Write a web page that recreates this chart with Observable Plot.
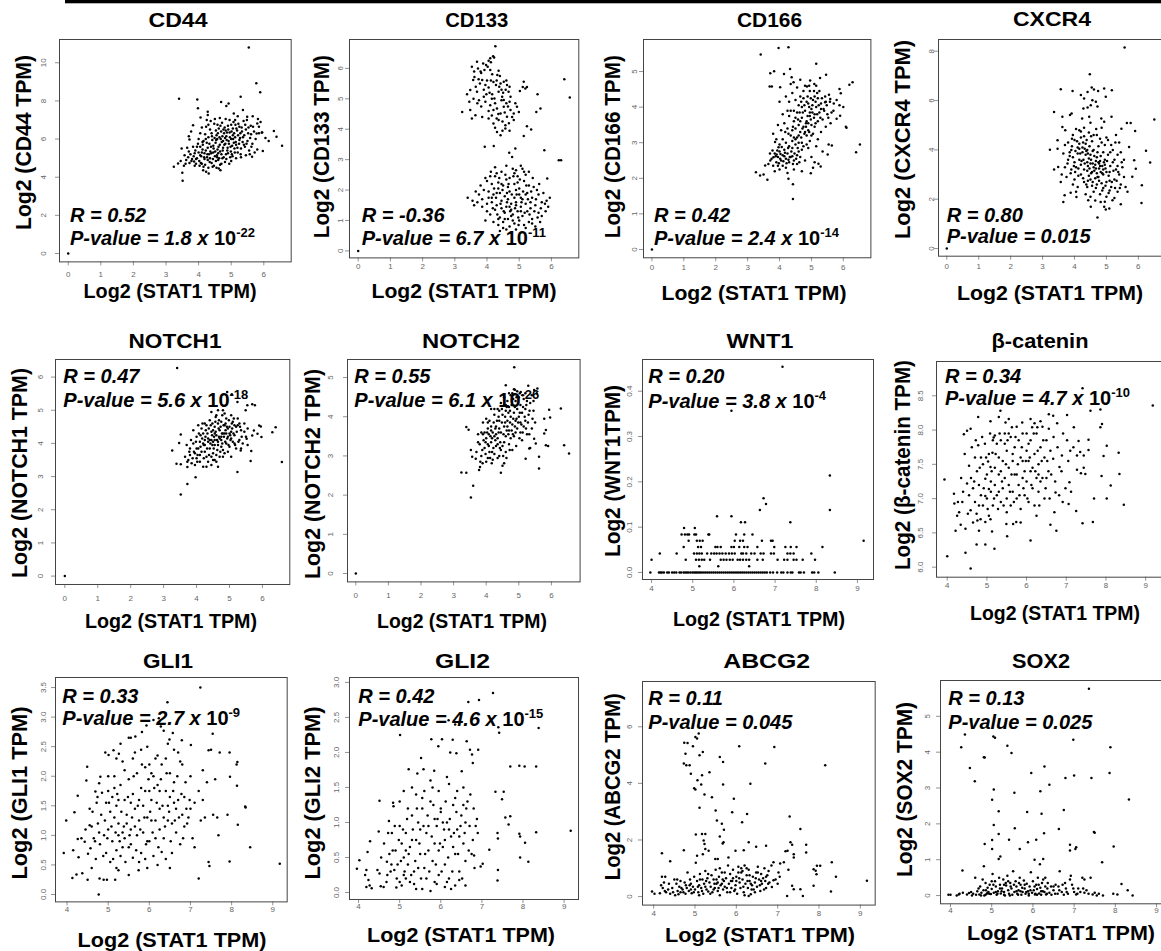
<!DOCTYPE html>
<html><head><meta charset="utf-8">
<script src="https://cdn.jsdelivr.net/npm/d3@7"></script>
<script src="https://cdn.jsdelivr.net/npm/@observablehq/plot@0.6"></script>
<style>
html,body{margin:0;padding:0;background:#fff;overflow:hidden;}
#page{position:relative;width:1161px;height:951px;overflow:hidden;background:#fff;}
#overlay{position:absolute;left:0;top:0;}
</style></head><body><div id="page"></div>
<script>
// ---------- labels / statistics ----------
const genes = ["CD44","CD133","CD166","CXCR4","NOTCH1","NOTCH2","WNT1","β-catenin","GLI1","GLI2","ABCG2","SOX2"];
const yLabels = ["Log2 (CD44 TPM)","Log2 (CD133 TPM)","Log2 (CD166 TPM)","Log2 (CXCR4 TPM)","Log2 (NOTCH1 TPM)","Log2 (NOTCH2 TPM)","Log2 (WNT1TPM)","Log2 (β-catenin TPM)","Log2 (GLI1 TPM)","Log2 (GLI2 TPM)","Log2 (ABCG2 TPM)","Log2 (SOX2 TPM)"];
const xLabel = "Log2 (STAT1 TPM)";
const rValues = ["0.52","-0.36","0.42","0.80","0.47","0.55","0.20","0.34","0.33","0.42","0.11","0.13"];
const pMantissa = ["1.8","6.7","2.4","0.015","5.6","6.1","3.8","4.7","2.7","4.6","0.045","0.025"];
const pExponent = ["-22","-11","-14",null,"-18","-26","-4","-10","-9","-15",null,null];
const xTicksA = [0,1,2,3,4,5,6];
const xTicksB = [4,5,6,7,8,9];
const yTicks = [[0,2,4,6,8,10],[0,1,2,3,4,5,6],[0,1,2,3,4,5],[0,2,4,6,8],[0,1,2,3,4,5,6],[0,1,2,3,4,5],[0,0.1,0.2,0.3,0.4],[6,6.5,7,7.5,8,8.5],[0,0.5,1,1.5,2,2.5,3,3.5],[0,0.5,1,1.5,2,2.5,3],[0,2,4,6],[0,1,2,3,4,5]];

// ---------- data (x = Log2 STAT1 TPM, y = Log2 gene TPM) ----------
const cd44 = [[0,0],[5.54,10.8],[5.77,8.92],[5.89,8.46],[3.40,8.11],[3.96,8.08],[3.98,7.62],[4.69,7.94],[4.92,7.87],[4.85,7.73],[5.29,8.22],[4.28,7.43],[4.28,7.26],[4.06,7.13],
[3.24,4.55],[3.5,4.23],[3.51,3.81],[3.37,4.72],[3.48,5.5],[3.7,6.15],[3.72,5.98],[3.83,6.73],
[6.31,6.42],[6.39,6.12],[6.56,5.65],[5.97,5.38],[5.94,6.35],[5.8,6.82],[5.82,7.05],[5.66,7.2],[5.49,7.17],[5.67,6.64],[5.78,6.29],[5.62,5.6],[5.64,5.07],[5.36,7.52],[5.08,7.34],
[4.31,4.2],[4.23,4.28],[4.67,4.37],[4.62,4.46],[4.14,4.37],
[3.62,4.9],[3.68,5.05],[3.72,4.75],[3.75,5.2],[3.8,4.95],[3.85,5.1],[3.88,4.6],[3.7,5.35],[3.78,4.85],[3.9,5.4],[3.83,5.6],[3.65,5.55],[3.6,4.7],[3.92,4.7],[3.86,4.82],
[3.95,5.0],[4.0,5.3],[4.02,4.85],[4.05,5.6],[4.08,5.1],[4.1,4.7],[4.12,5.45],[4.15,5.9],[4.18,5.25],[4.0,6.0],[4.05,6.3],[4.1,6.6],[4.15,4.55],[4.18,4.95],[3.98,5.75],[4.2,6.25],[4.03,4.6],[4.13,5.7],
[4.22,5.4],[4.25,5.8],[4.28,4.9],[4.3,6.1],[4.32,5.2],[4.35,6.5],[4.38,5.6],[4.4,4.75],[4.42,5.95],[4.45,5.3],[4.48,6.8],[4.25,7.0],[4.3,4.5],[4.35,5.0],[4.4,6.3],[4.45,5.65],[4.47,4.6],[4.23,6.65],[4.37,6.95],[4.5,5.1],[4.28,5.55],
[4.52,5.8],[4.55,6.2],[4.58,5.45],[4.6,4.9],[4.62,6.55],[4.65,5.7],[4.68,6.0],[4.7,5.2],[4.72,6.85],[4.75,5.55],[4.78,6.3],[4.55,4.5],[4.6,5.25],[4.65,7.1],[4.7,4.7],[4.75,5.9],[4.8,6.6],[4.57,6.0],[4.63,5.0],[4.77,5.05],[4.53,6.45],[4.69,6.4],
[4.82,5.75],[4.85,6.15],[4.88,5.4],[4.9,6.7],[4.92,5.9],[4.95,6.35],[4.98,5.6],[5.0,6.0],[5.02,5.2],[5.05,6.55],[5.08,5.8],[4.85,4.95],[4.9,5.25],[4.95,7.0],[5.0,4.85],[5.05,6.2],[5.1,5.5],[4.83,6.45],[4.97,5.05],[5.07,6.9],
[5.12,6.1],[5.15,5.7],[5.18,6.45],[5.2,5.3],[5.22,6.8],[5.25,5.95],[5.28,6.3],[5.3,5.5],[5.32,6.6],[5.35,5.85],[5.38,6.95],[5.15,5.0],[5.2,7.2],[5.3,5.05],[5.4,6.2],[5.25,6.65],[5.13,6.75],
[5.42,5.6],[5.45,6.5],[5.5,5.9],[5.52,6.3],[5.55,5.4],[5.6,6.7],[5.48,7.0],[5.58,6.05],[5.65,5.75],[5.7,6.4],[5.75,6.0],[5.85,6.3],[5.9,6.9],[5.8,5.45],[5.95,6.35],
[4.05,5.15],[4.12,5.85],[4.17,5.05],[4.22,6.0],[4.27,5.2],[4.33,5.75],[4.36,5.35],[4.41,6.15],[4.44,4.95],[4.46,5.5],[4.49,6.05],[4.51,5.35],[4.54,5.95],[4.56,5.15],[4.59,6.3],[4.61,5.6],[4.64,6.1],[4.66,5.35],[4.67,6.7],[4.71,5.85],[4.73,6.15],[4.74,5.4],[4.76,6.5],[4.79,5.7],[4.81,6.05],[4.84,5.2],[4.86,5.95],[4.87,6.35],[4.89,5.55],[4.91,6.5],[4.93,5.75],[4.96,6.1],[4.99,5.35],[5.01,6.4],[5.03,5.65],[5.06,6.0],[5.09,6.3],[5.11,5.3],[5.14,5.85],[5.16,6.55],[5.19,5.55],[5.21,6.2],[5.24,5.75],[5.27,6.05],[5.29,5.2],[5.33,6.4],[5.36,6.1],[5.39,5.7],[5.43,6.75],[5.47,5.75],[5.53,6.6],[5.57,5.2],[5.61,6.25],[3.95,5.6],[3.88,5.25],[3.92,4.95],[4.07,4.75],[4.1,5.3],[4.2,4.65],[4.26,5.05],[4.34,4.8],[4.39,5.25],[4.43,4.55],[4.53,4.85],[4.57,5.05],[4.66,4.65],[4.73,5.0],[4.81,4.8],[4.94,4.7],[5.04,5.1],[4.3,6.75],[4.5,7.05],[4.58,6.75],[4.83,7.05],[5.0,6.75],[5.12,7.0],[3.77,6.4],[3.57,5.15],[3.55,4.6],[3.45,4.85],[5.72,5.3],[5.85,6.65],[6.05,6.05],[6.15,5.9],[5.45,5.15]];

const cd133 = [[0,0],[4.26,6.73],[4.19,6.40],[4.1,6.33],[4.05,6.25],[4.22,6.36],[3.69,6.22],[3.53,6.05],[3.88,6.16],[3.97,6.11],[4.36,5.92],
[3.57,5.62],[3.61,5.72],[3.74,5.64],[3.85,5.62],[4.0,5.6],[4.16,5.81],[4.32,5.78],[4.42,5.5],[4.52,5.56],[4.62,5.45],
[3.38,5.15],[3.48,5.29],[3.69,5.23],[3.9,5.07],[4.05,5.37],[4.16,5.15],[4.23,5.01],[4.36,5.23],[4.47,5.07],[4.67,5.23],[4.73,5.07],[4.52,4.96],
[3.23,4.57],[3.48,4.63],[3.53,4.35],[3.64,4.46],[4.1,4.79],[4.2,4.63],[4.31,4.68],[4.42,4.52],[4.52,4.74],[4.62,4.41],[4.73,4.63],[4.83,4.52],[4.93,4.74],[4.99,4.57],[4.05,4.35],[4.2,4.19],[4.36,4.3],[4.57,4.13],[4.31,3.91],[4.42,3.8],[4.57,4.02],[4.83,4.3],
[5.02,5.26],[5.11,5.39],[5.14,5.56],[5.19,5.34],[5.24,5.39],[5.57,5.15],[5.66,4.68],[5.53,4.57],[5.24,4.1],[5.37,3.99],[5.14,3.78],[6.40,5.64],[6.57,5.04],
[3.8,5.9],[3.95,5.45],[4.1,5.95],[4.28,5.45],[4.45,5.3],[4.6,4.85],[3.75,4.95],[4.15,4.45],[4.48,4.25],[4.7,4.9],
[3.6,5.9],[3.72,6.0],[3.82,5.85],[3.92,5.95],[4.02,6.05],[4.12,6.2],[3.65,5.4],[3.78,5.5],[3.9,5.3],[4.08,5.2],[4.2,5.55],[4.3,5.6],[4.38,5.4],[4.5,5.2],[4.58,5.3],[4.7,5.4],[3.58,5.0],[3.7,4.85],[3.82,4.75],[3.95,4.9],[4.05,4.6],[4.25,4.85],[4.35,4.5],[4.45,4.95],[4.55,4.55],[4.65,4.75],[4.78,4.4],[4.88,4.85],[4.25,4.05],[4.48,3.95],[4.68,4.2],[3.45,4.9],[3.85,4.4],[4.15,5.0],[4.4,5.75],[4.6,5.6],[4.12,5.6],[3.98,5.15],[4.3,4.35],[4.7,3.95],
[3.93,3.42],[4.21,3.45],[4.88,3.37],[4.69,3.23],[4.78,3.09],[5.78,3.31],[6.23,2.98],[6.3,2.98],[5.87,2.38],
[4.25,2.75],[4.3,2.55],[4.45,2.6],[4.6,2.8],[4.8,2.7],[4.9,2.65],[5.05,2.8],[5.1,2.7],[4.7,2.4],[4.95,2.45],[5.2,2.5],[4.0,2.3],[4.15,2.2],[4.35,2.25],[4.5,2.15],[4.65,2.1],[4.85,2.2],[5.0,2.05],[5.15,2.3],[5.3,2.15],[5.45,2.1],[5.55,2.0],
[3.9,2.0],[4.05,1.95],[4.2,1.85],[4.4,1.9],[4.55,1.8],[4.7,1.95],[4.85,1.75],[5.0,1.85],[5.1,1.7],[5.25,1.9],[5.4,1.75],[5.6,1.85],[5.7,1.6],[3.75,1.85],[3.7,1.6],[3.6,1.5],[3.4,1.75],[3.85,1.45],[4.0,1.55],[4.15,1.6],[4.3,1.5],[4.45,1.65],[4.6,1.45],[4.75,1.55],[4.9,1.6],[5.05,1.45],[5.2,1.55],[5.35,1.4],[5.5,1.5],[5.8,1.55],[5.85,1.65],[5.9,1.45],
[4.0,1.3],[4.1,1.2],[4.25,1.35],[4.4,1.1],[4.55,1.25],[4.65,1.05],[4.8,1.2],[4.95,1.3],[5.1,1.15],[5.25,1.3],[5.4,1.05],[5.6,1.25],[5.7,1.15],[3.95,1.0],[4.2,0.95],[4.35,0.85],[4.5,0.95],[4.7,0.8],[4.85,0.9],[5.0,1.0],[5.15,0.85],[5.3,0.95],[5.5,0.8],[5.65,0.95],[4.6,0.7],[4.4,0.65],[4.9,0.7],[5.2,0.75],[4.75,1.35],[4.45,1.4],[5.05,1.75],[4.35,2.05],[4.6,2.35],[4.9,2.0],[4.65,1.7],[5.3,2.6],[4.1,2.45],[4.75,1.15],
[3.8,2.15],[3.85,1.7],[3.95,2.4],[4.05,1.75],[4.12,2.6],[4.18,1.4],[4.22,2.05],[4.28,1.75],[4.32,1.2],[4.38,2.4],[4.42,1.55],[4.48,2.0],[4.52,1.3],[4.57,2.5],[4.62,1.6],[4.67,2.2],[4.72,1.3],[4.77,1.85],[4.82,2.45],[4.87,1.4],[4.92,1.85],[4.97,1.1],[5.02,2.35],[5.07,1.6],[5.12,1.95],[5.17,1.25],[5.22,2.15],[5.27,1.7],[5.32,1.2],[5.37,1.95],[5.42,2.4],[5.47,1.3],[5.52,1.7],[5.57,1.1],[5.62,2.2],[5.67,1.4],[5.75,1.9],[5.82,1.3],[5.95,1.75],[4.55,1.05],[4.8,1.0],[4.35,1.05],[5.05,1.3],[4.62,1.9],[4.95,2.25],[4.3,1.9],[4.15,1.75],[4.7,1.45],[4.9,1.5],[5.2,1.85],[5.35,1.6],[4.45,2.2],[4.25,2.45],[4.85,2.55],[5.15,2.6],[3.65,1.95],[3.55,1.65],[4.98,0.85],[4.5,0.75],[5.4,0.9]];

const cd166 = [[0,0],[4.28,5.68],[3.97,5.66],[3.41,5.48],[5.15,5.22],[5.46,4.91],[3.71,4.95],[3.83,5.01],[4.14,4.93],[4.33,5.07],[4.38,4.84],
[3.69,4.58],[3.76,4.58],[4.02,4.56],[4.44,4.70],[4.65,4.77],[4.96,4.75],[5.27,4.82],[5.09,4.65],[4.86,4.58],
[6.19,4.63],[6.29,4.7],[5.88,4.51],[5.92,4.39],[5.59,4.23],[5.79,4.2],[5.43,4.14],[6.0,4.0],[5.88,4.05],[5.69,3.9],[5.9,3.76],[5.79,3.67],[6.1,3.42],[6.08,3.45],[6.52,2.95],[6.4,2.73],
[5.54,2.95],[5.64,2.92],[5.51,2.67],[5.29,2.33],[5.22,2.41],[4.98,2.14],[4.42,1.42],[4.28,1.99],[4.42,1.83],
[3.26,2.17],[3.39,2.08],[3.5,2.11],[3.62,1.96],[3.55,2.36],[3.71,2.5],[3.81,2.59],[3.91,2.67],[3.86,3.02],[3.97,2.87],
[3.75,2.55],[3.85,2.7],[3.9,2.45],[3.95,2.6],[4.0,2.75],[4.05,2.5],[4.1,2.65],[4.15,2.8],[4.2,2.55],[4.25,2.7],[4.3,2.45],[4.35,2.6],[4.1,2.35],[4.2,2.3],[4.0,2.25],[3.8,2.35],[3.7,2.7],[3.65,2.4],[4.4,2.85],[4.45,2.5],[4.3,2.9],[4.2,3.0],[4.1,3.1],[4.35,3.2],[4.4,3.05],[4.5,2.95],[4.55,3.15],[4.6,2.75],[4.65,3.3],[4.5,3.4],[4.45,3.6],[4.4,3.35],[4.25,3.4],[4.6,3.5],[4.7,3.7],[4.75,3.45],[4.8,3.9],[4.85,3.6],[4.9,4.1],[4.95,3.75],[5.0,3.95],[5.05,4.2],[5.1,3.8],[5.15,4.0],[5.2,3.6],[5.25,3.85],[5.3,4.1],[4.7,4.0],[4.75,4.25],[4.85,4.15],[4.9,3.35],[5.0,3.5],[5.05,3.25],[4.95,4.45],[4.65,4.3],[4.6,4.05],[4.55,3.85],[4.5,4.2],[4.4,4.4],[4.3,4.15],[4.2,4.3],[4.1,3.8],[4.0,4.15],[3.95,3.5],[4.05,3.35],[4.15,3.55],[4.3,3.75],[4.45,2.25],[4.55,2.4],[4.65,2.6],[4.7,2.2],[4.8,2.5],[4.9,2.85],[5.0,2.6],[5.1,2.45],[5.15,2.9],[5.2,3.1],[5.3,3.3],[5.35,3.65],[5.4,3.9],[5.45,3.45],[5.5,3.8],[5.55,4.35],[5.6,3.55],[5.7,4.1],[5.25,4.45],[5.15,4.6],[4.8,4.6],[4.85,3.2],[4.7,3.0],[4.6,3.2],[4.75,2.9],[4.95,3.05],[5.1,3.45],[4.55,4.55],[4.35,4.65],[4.25,3.9],[3.9,3.1],[3.8,3.25],[4.0,2.95],[3.85,2.2],[4.25,2.15],[4.45,3.9],[5.35,2.75],[5.05,2.3],[4.9,3.55],[5.2,4.25],[4.95,3.85],[5.1,4.3],[4.65,3.6],[4.8,3.3],[4.5,3.1],
[3.88,2.62],[3.93,2.78],[3.98,2.42],[4.03,2.68],[4.07,2.88],[4.12,2.48],[4.17,2.72],[4.22,2.42],[4.27,2.85],[4.32,2.6],[4.37,2.75],[4.42,2.4],[4.47,2.7],[4.52,2.55],[4.57,2.85],[4.62,2.45],[4.02,2.55],[4.15,2.62],[4.28,2.52],[4.4,2.62],[3.78,2.78],[3.95,2.35],[4.6,3.0],[4.68,3.15],[4.72,3.4],[4.78,3.25],[4.83,3.55],[4.88,3.75],[4.93,3.3],[4.98,3.65],[5.03,4.05],[5.08,3.7],[5.13,4.15],[5.18,3.8],[5.23,4.05],[5.28,3.7],[5.33,4.25],[5.38,3.95],[5.43,4.3],[5.48,4.05],[5.53,3.7],[5.58,4.15],[5.63,3.85],[4.58,3.65],[4.63,3.85],[4.68,4.15],[4.73,3.85],[4.78,4.05],[4.83,3.45],[4.88,4.3],[4.93,4.0],[4.98,4.25],[5.03,3.85],[5.08,4.45],[5.13,3.55],[5.18,4.4],[4.5,3.7],[4.42,3.45],[4.35,3.9],[4.28,3.25],[4.18,3.3],[4.45,3.15],[4.55,2.65],[4.7,2.8],[4.85,2.95],[5.0,3.2],[4.93,4.6],[4.75,4.45],[5.3,3.95],[5.45,4.15]];

const cxcr4 = [[0,0],[5.57,8.15],[4.48,7.07],[4.54,6.53],[4.61,6.45],[4.74,6.39],[4.93,6.49],[5.17,6.42],[4.98,6.15],[4.41,6.35],[3.94,6.39],[3.57,6.46],[4.2,6.22],[4.3,6.08],[4.56,6.01],[4.67,5.95],[4.51,5.81],[4.41,5.72],[4.28,5.68],[4.72,5.76],
[3.36,5.54],[3.62,5.34],[3.86,5.41],[3.91,5.47],[4.24,5.27],[4.46,5.34],[4.84,5.27],[4.93,5.14],[5.16,5.34],[5.64,5.09],[5.76,5.09],[6.5,5.23],[5.47,4.86],[5.9,4.77],[5.71,4.12],[6.24,3.96],[6.37,3.49],[5.87,3.58],[5.92,3.24],[5.81,2.91],[6.11,2.57],[5.66,2.3],[6.1,1.85],[5.45,1.8],
[3.23,4.01],[3.36,3.2],[3.49,3.31],[3.47,4.05],[3.65,3.85],[3.62,4.93],[3.71,4.8],[3.47,4.39],[3.57,2.7],[3.69,2.16],[3.65,1.89],[3.88,2.26],[4.06,2.09],
[4.43,1.96],[4.51,1.69],[4.72,1.26],[4.82,1.89],[4.93,1.69],[4.98,1.58],[5.09,1.62],[5.19,1.96],
[3.8,4.3],[3.9,4.0],[3.95,3.7],[4.0,4.4],[4.05,3.3],[4.1,4.1],[4.15,3.6],[4.2,4.5],[4.25,3.9],[4.3,3.2],[4.35,4.25],[4.4,3.5],[4.45,4.7],[4.5,3.8],[4.55,3.1],[4.6,4.0],[4.65,3.4],[4.7,3.7],[4.75,2.9],[4.8,3.55],[4.85,4.3],[4.9,3.0],[4.95,3.4],[5.0,2.7],[5.05,3.8],[5.1,3.1],[5.15,2.5],[5.2,3.5],[5.25,2.8],[5.3,3.2],[5.35,2.3],[5.4,3.0],[5.45,2.6],[5.5,3.3],[4.2,3.0],[4.3,2.7],[4.4,2.5],[4.5,2.8],[4.6,2.3],[4.7,2.6],[4.8,2.2],[4.9,2.45],[5.0,2.1],[5.1,2.35],[4.0,2.8],[4.1,2.5],[3.9,3.2],[3.8,3.6],[3.75,2.9],[4.35,2.2],[4.5,2.1],[4.65,1.95],[4.95,1.9],[5.25,2.05],[4.15,4.8],[4.3,4.9],[4.5,5.1],[4.7,4.6],[4.85,4.9],[5.0,4.5],[5.15,4.2],[5.3,4.6],[5.45,3.9],[5.55,3.6],[4.4,4.0],[4.55,4.35],[4.75,4.15],[4.9,3.9],[5.05,4.4],[5.2,4.0],[4.45,3.65],[4.6,3.3],[4.7,3.05],[4.8,3.35],[4.9,3.2],[4.5,3.45],[4.35,3.8],[4.25,4.1],[4.1,3.85],[4.0,3.5],[3.85,3.9],[3.7,4.2],[3.7,3.3],[3.6,3.0],[4.55,2.55],[4.65,2.85],[4.85,2.65],[5.0,3.1],[5.1,2.75],[4.4,3.15],[4.2,3.4],[4.05,2.3],[3.95,2.6],[5.25,3.6],[5.35,3.35],[5.55,2.9],[5.6,2.5],[4.6,4.6],[4.3,4.55],[4.15,4.25],[3.95,4.6],[5.4,4.3],[4.75,3.5],[4.95,3.6],[4.45,2.95],
[3.85,3.75],[3.92,4.15],[3.98,3.35],[4.03,3.95],[4.08,4.35],[4.12,3.25],[4.18,3.85],[4.22,3.55],[4.27,4.3],[4.32,3.45],[4.37,3.95],[4.42,3.35],[4.47,4.15],[4.52,3.6],[4.57,3.95],[4.62,3.15],[4.67,3.55],[4.72,3.9],[4.77,3.25],[4.82,3.75],[4.87,3.05],[4.92,3.5],[4.97,3.25],[5.02,3.55],[5.07,2.95],[5.12,3.35],[5.17,2.7],[5.22,3.15],[5.27,2.45],[5.32,2.75],[5.37,3.1],[5.42,2.45],[4.27,2.85],[4.37,2.6],[4.47,3.25],[4.57,2.7],[4.67,2.45],[4.77,2.75],[4.87,2.35],[4.97,2.55],[5.07,2.25],[4.12,2.95],[4.02,3.1],[4.57,3.45],[4.67,3.25],[4.77,3.45],[4.87,3.35],[4.62,3.75],[4.42,3.85],[4.32,4.05],[4.2,4.75],[4.05,4.85],[3.92,4.45],[4.38,4.4],[4.52,4.55],[4.68,4.85],[4.8,4.45],[4.95,4.2],[5.12,3.9],[5.28,4.3],[5.35,3.8],[5.48,3.5],[4.82,3.1],[4.72,2.9],[4.52,3.05],[4.42,2.75],[4.28,3.6],[4.15,4.05],[3.88,3.05],[3.78,3.45]];

const notch1 = [[0,0],[3.41,6.27],[4.93,5.55],[5.07,5.48],[5.54,5.15],[5.69,5.18],[5.77,5.15],[5.49,5.0],[5.24,5.25],
[3.26,3.79],[3.39,3.39],[3.52,3.37],[3.47,4.01],[3.52,4.27],[3.52,2.46],[3.72,2.78],[3.97,2.98],[3.72,3.29],
[5.24,3.14],[5.34,3.79],[5.64,3.47],[5.66,3.77],[5.74,4.39],[5.85,4.29],[5.97,4.19],[5.95,4.51],[5.9,4.54],[6.3,4.34],[6.4,4.49],[6.59,3.44],[5.52,4.14],[5.69,4.24],
[3.65,3.6],[3.7,3.95],[3.75,3.5],[3.8,3.85],[3.85,3.4],[3.9,4.0],[3.95,3.7],[4.0,3.55],[4.0,4.2],[4.05,3.85],[4.1,3.45],[4.1,4.05],[4.15,3.75],[4.2,4.3],[4.2,3.3],[4.25,3.95],[4.3,4.55],[4.3,3.6],[4.35,4.15],[4.4,3.85],[4.4,4.7],[4.45,4.35],[4.5,3.7],[4.5,4.05],[4.55,4.5],[4.55,3.5],[4.6,4.25],[4.6,4.85],[4.65,3.95],[4.7,4.4],[4.7,3.6],[4.75,4.65],[4.75,4.1],[4.8,4.3],[4.8,3.8],[4.85,4.55],[4.9,4.0],[4.9,4.75],[4.95,4.2],[5.0,4.5],[5.0,3.9],[5.05,4.35],[5.1,4.65],[5.1,4.05],[5.15,4.25],[5.2,4.5],[5.2,3.85],[5.25,4.75],[5.3,4.1],[5.35,4.4],[5.4,4.0],[5.45,4.6],[5.5,4.2],[5.55,3.95],[4.25,4.6],[4.45,4.95],[4.65,5.0],[4.85,4.9],[5.05,4.85],[4.35,3.45],[4.6,3.65],[4.85,3.7],[5.05,3.6],[4.15,4.45],[3.9,4.4],[4.05,4.55],[4.5,4.4],[4.7,4.15],[4.95,4.45],[4.4,4.1],[4.55,3.95],[4.75,3.9],[4.25,3.75],[4.1,3.65],[3.95,3.35],[4.3,3.3],[4.6,3.45],[4.45,3.6],[4.0,3.85],[3.8,3.65],[4.9,4.3],[5.15,4.55],[4.65,4.6],[4.8,5.0],[5.3,4.6],[4.2,4.0],[4.55,4.1],
[3.92,3.75],[3.98,4.05],[4.03,3.65],[4.07,4.3],[4.12,3.9],[4.17,4.15],[4.22,3.55],[4.27,4.2],[4.32,3.85],[4.37,4.45],[4.42,4.0],[4.47,4.25],[4.52,3.85],[4.57,4.65],[4.62,4.1],[4.67,4.45],[4.72,3.75],[4.77,4.3],[4.82,4.55],[4.87,4.05],[4.92,4.5],[4.97,3.95],[5.02,4.25],[5.07,4.6],[5.12,4.3],[5.17,3.95],[5.22,4.35],[5.27,4.05],[5.32,4.5],[5.37,4.2],[4.33,4.3],[4.38,3.65],[4.43,4.55],[4.48,3.95],[4.53,4.2],[4.58,4.35],[4.63,3.8],[4.68,4.2],[4.73,4.5],[4.78,4.0],[4.83,4.2],[4.88,4.4],[4.93,4.15],[4.98,4.7],[5.03,4.1],[5.08,4.45],[5.13,4.75],[4.18,4.6],[4.28,4.4],[4.48,4.6],[4.58,4.8],[4.68,4.7],[4.78,4.85],[4.88,4.6],[4.22,3.95],[4.12,4.25],[4.02,3.45],[3.88,3.55],[3.78,3.75],[3.72,3.45],[3.83,4.1],[4.45,3.35],[4.65,3.3],[4.95,3.75],[5.15,4.0],[5.25,4.55],[5.45,4.35],[5.55,4.45],[5.35,3.85],[4.75,4.2],[4.55,4.3],[4.35,4.05],[4.65,4.05],[4.85,4.3],[5.0,4.3],[4.45,4.1],[4.25,4.1],[4.5,3.5],[4.8,3.6],[5.05,4.15]];

const notch2 = [[0,0],[4.86,5.26],[4.6,4.8],[5.29,4.79],[4.88,4.69],[5.06,4.63],[5.57,4.72],[5.47,4.68],
[6.29,4.21],[5.93,4.18],[5.96,3.98],[5.78,3.95],[5.83,3.66],[5.78,3.57],[6.39,3.27],[6.54,3.06],[5.83,3.27],[5.9,3.25],[5.47,3.44],[5.52,3.32],[5.62,2.98],[5.62,2.68],[5.21,2.93],[5.32,3.19],
[3.24,2.58],[3.39,2.57],[3.6,2.24],[3.53,1.94],[3.39,3.74],[3.46,3.67],[3.53,3.15],[3.57,2.98],[3.68,2.93],[3.78,2.64],[3.81,2.72],[3.89,2.81],[4.17,2.81],[4.45,2.57],[4.55,2.81],
[3.8,3.3],[3.85,3.0],[3.9,3.55],[3.95,3.2],[4.0,2.85],[4.0,3.45],[4.05,3.7],[4.1,3.1],[4.1,3.9],[4.15,3.35],[4.2,3.6],[4.2,2.9],[4.25,4.05],[4.3,3.25],[4.3,3.75],[4.35,3.45],[4.35,4.2],[4.4,3.0],[4.4,3.9],[4.45,3.6],[4.45,4.35],[4.5,3.25],[4.5,4.05],[4.55,3.75],[4.55,4.5],[4.6,3.5],[4.6,4.15],[4.65,3.9],[4.65,4.4],[4.7,3.65],[4.7,4.25],[4.75,4.0],[4.75,4.55],[4.8,3.8],[4.8,4.3],[4.85,4.1],[4.85,3.5],[4.9,4.4],[4.9,3.9],[4.95,4.2],[4.95,3.7],[5.0,4.5],[5.0,4.0],[5.05,3.6],[5.05,4.3],[5.1,4.1],[5.1,3.4],[5.15,4.45],[5.2,3.9],[5.2,4.2],[5.25,3.55],[5.3,4.05],[5.35,4.35],[5.4,3.7],[5.45,4.15],[5.5,3.85],[4.0,3.95],[3.9,3.85],[4.15,4.2],[4.25,3.05],[4.35,2.95],[4.45,3.15],[4.5,2.75],[4.6,3.1],[4.7,3.3],[4.8,3.15],[4.05,3.3],[3.75,3.55],[3.7,3.1],[4.3,3.55],[4.55,3.35],[4.75,3.45],[4.25,3.5],[4.4,3.7],[4.65,3.75],[4.9,3.6],[5.15,3.75],[5.35,3.2],[5.05,3.85],[4.95,4.65],[4.7,4.6],[4.85,4.7],[4.6,4.3],[4.4,4.15],[4.15,3.75],[3.95,3.6],[4.05,2.95],[5.25,4.4],[5.4,4.55],[5.55,4.6],[5.2,4.6],
[3.92,3.4],[3.98,3.05],[4.03,3.6],[4.08,3.25],[4.13,3.5],[4.18,3.1],[4.23,3.85],[4.28,3.4],[4.33,3.9],[4.38,3.6],[4.43,3.35],[4.48,3.85],[4.53,3.55],[4.58,4.0],[4.63,3.65],[4.68,4.1],[4.73,3.85],[4.78,4.3],[4.83,3.95],[4.88,4.25],[4.93,3.95],[4.98,4.35],[5.03,4.1],[5.08,3.8],[5.13,4.25],[5.18,4.0],[5.23,4.3],[5.28,3.85],[5.33,4.15],[4.58,3.85],[4.63,4.25],[4.68,3.55],[4.73,4.15],[4.78,3.65],[4.83,4.45],[4.88,3.75],[4.93,4.5],[4.98,3.85],[5.03,4.6],[4.48,4.2],[4.38,4.0],[4.28,3.7],[4.18,3.45],[4.08,3.55],[3.98,3.35],[3.88,3.15],[3.82,2.85],[4.12,2.95],[4.22,3.2],[4.42,3.2],[4.52,3.0],[4.62,2.95],[4.72,3.15],[4.82,3.55],[4.92,3.25],[5.02,3.45],[5.12,3.6],[5.22,3.7],[5.32,3.55],[5.42,3.95],[5.45,4.4],[5.12,4.55],[4.8,4.6],[4.55,4.3],[4.35,3.3],[4.15,3.65],[4.05,3.85],[3.85,3.6],[3.75,3.35],[4.25,4.2]];

const wnt1 = [[3.97,0],[4.18,0],[4.22,0],[4.25,0],[4.3,0],[4.38,0],[4.42,0],[4.5,0],[4.55,0],[4.6,0],[4.68,0],[4.72,0],[4.78,0],[4.82,0],[4.86,0],[4.9,0],[4.95,0],[5.0,0],[5.04,0],[5.08,0],[5.12,0],[5.16,0],[5.2,0],[5.25,0],[5.3,0],[5.35,0],[5.4,0],[5.45,0],[5.5,0],[5.55,0],[5.6,0],[5.65,0],[5.7,0],[5.75,0],[5.8,0],[5.85,0],[5.9,0],[5.95,0],[6.0,0],[6.05,0],[6.1,0],[6.15,0],[6.2,0],[6.25,0],[6.3,0],[6.35,0],[6.4,0],[6.45,0],[6.5,0],[6.55,0],[6.6,0],[6.65,0],[6.7,0],[6.75,0],[6.8,0],[6.88,0],[6.95,0],[7.05,0],[7.15,0],[7.2,0],[7.3,0],[7.38,0],[7.42,0],[7.58,0],[7.62,0],[7.7,0],[7.9,0],[7.95,0],[8.05,0],[8.45,0],
[5.16,0.014],[5.62,0.014],[6.37,0.014],
[4.0,0.028],[4.83,0.028],[5.08,0.028],[5.15,0.028],[5.22,0.028],[5.28,0.028],[5.42,0.028],[5.68,0.028],[5.75,0.028],[5.82,0.028],[5.9,0.028],[5.97,0.028],[6.09,0.028],[6.15,0.028],[6.22,0.028],[6.3,0.028],[6.37,0.028],[6.57,0.028],[6.7,0.028],[7.06,0.028],[7.22,0.028],[7.3,0.028],[7.45,0.028],[7.52,0.028],[7.67,0.028],[7.97,0.028],
[4.2,0.042],[4.61,0.042],[5.03,0.042],[5.1,0.042],[5.16,0.042],[5.22,0.042],[5.35,0.042],[5.45,0.042],[5.52,0.042],[5.58,0.042],[5.65,0.042],[5.72,0.042],[5.8,0.042],[5.88,0.042],[5.95,0.042],[6.02,0.042],[6.18,0.042],[6.22,0.042],[6.3,0.042],[6.42,0.042],[6.5,0.042],[6.65,0.042],[6.72,0.042],[6.9,0.042],[6.97,0.042],[7.3,0.042],[7.37,0.042],[7.45,0.042],[7.88,0.042],
[4.78,0.056],[5.13,0.056],[5.2,0.056],[5.55,0.056],[5.6,0.056],[5.68,0.056],[5.94,0.056],[6.0,0.056],[6.13,0.056],[6.25,0.056],[6.33,0.056],[6.57,0.056],[6.98,0.056],[7.25,0.056],[7.38,0.056],[7.52,0.056],[8.15,0.056],
[4.9,0.07],[5.1,0.07],[5.17,0.07],[5.24,0.07],[6.02,0.07],[6.15,0.07],[6.22,0.07],[6.68,0.07],[6.9,0.07],[6.94,0.07],[9.15,0.07],
[4.73,0.084],[4.81,0.084],[4.87,0.084],[4.91,0.084],[5.04,0.084],[5.08,0.084],[5.38,0.084],[5.4,0.084],[6.05,0.084],[6.25,0.084],[6.45,0.084],
[4.79,0.098],[5.05,0.098],[6.17,0.111],[6.27,0.111],[7.37,0.111],[5.59,0.124],[5.94,0.124],[6.63,0.138],[8.33,0.138],[6.78,0.151],[6.72,0.164],[8.33,0.214],[5.94,0.357],[7.18,0.454]];

const ctnnb1 = [[4.0,6.16],[3.93,7.28],[4.46,6.21],[4.59,5.98],[4.96,6.33],[5.19,6.27],[4.74,6.33],
[4.21,6.53],[4.34,6.62],[4.46,6.56],[4.52,6.78],[4.59,6.83],[4.74,6.78],[4.76,6.68],[4.8,6.53],[4.84,6.7],[4.96,6.66],[5.09,6.7],[5.13,6.52],[5.49,6.63],[5.51,6.45],[5.66,6.63],[5.74,6.66],[6.1,6.39],[6.6,6.62],[6.75,6.53],[7.41,6.64],[7.67,6.66],
[4.17,7.07],[4.18,6.93],[4.27,6.95],[4.38,6.95],[4.25,6.75],[4.5,7.22],[4.55,7.48],[4.44,7.65],[4.5,7.99],[4.42,7.94],[4.59,8.02],[4.78,7.78],[4.78,8.19],
[4.96,7.29],[4.96,7.04],[5.05,7.14],[5.09,7.46],[5.03,7.54],[5.14,7.67],[5.17,7.89],[5.09,8.13],[5.3,8.19],[5.34,8.28],[5.47,8.11],[5.55,8.16],[5.63,8.04],[5.89,8.11],[6.1,8.16],[6.14,8.04],[6.27,8.04],[6.35,8.13],[6.56,8.23],[6.67,8.21],[7.02,8.22],[6.77,8.1],[6.56,8.02],
[7.41,8.61],[9.18,8.36],[7.61,8.28],[7.86,8.3],
[7.9,8.09],[7.86,8.04],[8.02,7.77],[7.94,7.62],[7.56,7.86],[7.56,7.71],[7.44,7.63],[7.27,7.63],[7.19,8.04],[7.31,7.84],[7.35,7.68],[7.1,7.7],[7.02,7.85],[6.89,7.63],[6.67,7.58],[6.83,7.46],[7.27,7.42],[7.37,7.37],[7.44,7.45],[7.48,7.36],[8.32,7.67],[8.34,7.36],[7.89,7.33],[8.12,7.19],[8.45,6.91],[8.02,7.0],[7.7,7.0],[7.08,7.24],[6.91,6.95],[7.06,6.92],[7.25,6.82],[6.73,7.09],
[5.2,7.92],[5.25,7.8],[5.3,7.6],[5.35,7.85],[5.4,7.55],[5.45,7.95],[5.5,7.7],[5.55,7.45],[5.6,7.9],[5.65,7.55],[5.7,7.75],[5.75,7.35],[5.8,7.85],[5.85,7.6],[5.9,7.95],[5.95,7.4],[6.0,7.7],[6.05,7.55],[6.1,7.85],[6.15,7.45],[6.2,7.65],[6.25,7.95],[6.3,7.5],[6.35,7.75],[6.4,7.3],[6.45,7.6],[6.5,7.85],[6.55,7.4],[6.6,7.7],[5.2,7.2],[5.25,7.05],[5.3,7.35],[5.35,6.95],[5.4,7.15],[5.45,7.3],[5.5,7.0],[5.55,7.2],[5.6,6.9],[5.65,7.1],[5.7,7.35],[5.75,7.0],[5.8,7.2],[5.85,6.85],[5.9,7.3],[5.95,7.05],[6.0,7.25],[6.05,6.95],[6.1,7.4],[6.15,7.15],[6.2,6.9],[6.25,7.3],[6.3,7.1],[6.35,7.25],[6.45,7.0],[6.5,7.3],[4.9,7.5],[4.95,7.8],[5.0,7.35],[5.05,7.65],[5.1,7.1],[5.15,6.9],[4.85,7.05],[4.8,7.2],[4.75,7.4],[4.7,6.95],[4.65,7.15],[4.9,6.9],[5.0,7.0],[5.1,7.25],[5.15,7.85],[5.3,7.1],[5.55,7.95],[5.75,8.05],[6.0,7.95],[6.2,8.1],[6.4,8.05],[5.2,7.45],[4.85,7.6],[4.6,7.3],[4.55,7.05],[4.7,7.6],[5.35,7.4],[5.65,7.65],[6.05,7.8],[6.3,7.35],[5.9,7.55],[5.45,7.8],
[4.62,7.75],[4.68,7.25],[4.72,7.85],[4.82,7.45],[4.88,7.9],[4.92,7.15],[4.98,7.6],[5.02,6.85],[5.08,7.95],[5.12,7.4],[5.18,7.0],[5.22,7.65],[5.28,6.85],[5.32,7.95],[5.38,7.25],[5.42,6.9],[5.48,7.5],[5.52,7.85],[5.58,7.1],[5.62,7.35],[5.68,6.95],[5.72,7.9],[5.78,7.5],[5.82,7.05],[5.88,7.75],[5.92,7.15],[5.98,7.55],[6.02,7.0],[6.08,7.6],[6.12,7.2],[6.18,7.95],[6.22,7.4],[6.28,7.7],[6.32,6.9],[6.38,7.55],[6.42,7.85],[6.48,7.15],[6.52,7.55],[6.58,7.0],[6.62,7.35],[6.68,7.9],[6.72,7.25],[6.78,7.75],[6.82,7.05],[6.88,7.4],[6.92,7.95],[6.98,7.15],[7.05,7.55],[7.12,7.1],[7.18,7.75],[4.35,7.3],[4.3,6.8],[4.4,7.1],[4.65,6.65],[4.8,6.9],[5.05,6.75],[5.5,6.8],[5.85,6.65],[6.25,6.75],[6.7,6.8]];

const gli1 = [[3.92,0.70],[3.98,1.25],[4.15,0.75],[4.18,1.39],[4.13,0.28],[4.23,0.34],[4.26,1.67],[4.26,0.94],[4.28,0.63],[4.5,0.25],[4.47,1.93],[4.49,2.16],[4.43,0.89],[4.37,0.36],[4.55,1.17],[4.57,0.78],[4.51,0.69],
[4.77,0.0],[4.79,0.27],[4.89,0.25],[4.97,0.25],[5.17,0.25],[5.25,0.41],[5.5,0.33],[5.74,0.41],
[4.81,1.99],[4.78,1.88],[4.69,1.74],[4.74,1.65],[4.93,2.4],[5.01,2.36],[5.13,2.44],[5.26,2.38],[5.3,2.55],[5.5,2.65],[5.55,2.65],[5.66,2.67],[5.82,2.75],[5.93,2.86],[6.1,2.95],[6.23,2.98],[6.28,2.84],[6.44,3.25],[6.35,2.77],[6.57,2.73],[6.49,2.62],[6.79,2.61],[7.01,2.53],[7.24,3.5],[7.54,2.72],[7.44,2.44],[7.71,2.4],[7.95,2.4],[8.14,2.24],[8.12,2.2],
[7.96,1.99],[8.13,1.84],[8.33,1.49],[8.34,1.47],[8.15,1.18],[7.68,1.0],[7.95,0.56],[7.44,0.55],[7.46,0.48],[9.17,0.52],[7.2,0.27],[8.45,0.8],[7.9,1.35],[7.55,1.35],[7.65,1.3],[7.35,1.3],[7.25,1.25],[7.05,0.95],[7.1,0.8],[7.5,2.45],[7.6,1.95],[7.3,2.1],[7.4,1.9],[7.0,1.45],[7.3,1.6],
[4.85,1.72],[4.95,1.55],[5.0,1.75],[5.05,1.4],[5.1,1.65],[5.15,1.8],[5.2,1.5],[5.25,1.2],[5.3,1.85],[5.35,1.05],[5.4,1.6],[5.45,1.35],[5.5,1.95],[5.55,1.1],[5.6,1.7],[5.65,1.45],[5.7,2.05],[5.75,1.25],[5.8,1.8],[5.85,1.5],[5.9,2.15],[5.95,1.3],[6.0,1.75],[6.05,1.6],[6.1,2.0],[6.15,1.25],[6.2,1.85],[6.25,1.45],[6.3,2.2],[6.35,1.3],[6.4,1.75],[6.45,1.5],[6.5,2.05],[6.55,1.2],[6.6,1.9],[6.65,1.45],[6.7,1.6],[6.75,2.25],[6.8,1.35],[6.85,1.65],[6.9,1.45],[6.95,1.3],[5.0,1.1],[5.1,0.9],[5.2,0.75],[5.3,0.65],[5.4,0.95],[5.5,0.8],[5.6,0.62],[5.7,1.0],[5.8,0.7],[5.9,0.6],[6.0,0.9],[6.1,0.65],[6.2,0.5],[6.3,0.72],[6.4,0.6],[6.5,0.45],[4.75,1.2],[4.8,0.85],[4.9,1.0],[4.95,0.7],[4.7,0.6],[4.6,1.15],[4.65,0.95],[5.05,0.55],[5.15,1.3],[5.25,1.0],[5.35,0.8],[5.45,1.2],[5.55,0.85],[5.65,1.15],[5.75,0.55],[5.85,1.05],[5.95,0.9],[6.05,1.25],[6.15,0.95],[6.25,1.1],[6.35,0.95],[6.45,1.25],[6.55,0.7],[6.65,1.05],[6.75,0.85],[6.85,1.15],[5.0,2.0],[5.2,2.3],[5.4,2.1],[5.6,2.3],[5.8,2.45],[6.0,2.2],[6.2,2.35],[6.4,2.3],[6.6,2.45],[6.8,2.2],[7.0,2.0],[7.1,1.55],[7.2,1.75],[5.25,1.6],[5.55,1.55],[5.9,1.75],[6.25,1.75],[6.6,1.55],[5.15,2.0],[6.5,1.65],[6.05,2.05],[5.75,1.6],
[4.62,1.4],[4.68,0.9],[4.72,1.55],[4.78,1.05],[4.83,1.35],[4.88,0.65],[4.92,1.25],[4.98,0.95],[5.02,1.55],[5.08,1.15],[5.12,0.6],[5.18,1.05],[5.22,1.7],[5.28,0.9],[5.32,1.4],[5.38,1.15],[5.42,0.55],[5.48,1.65],[5.52,1.0],[5.58,1.3],[5.62,2.0],[5.68,0.75],[5.72,1.5],[5.78,1.1],[5.82,2.2],[5.88,1.3],[5.92,0.85],[5.98,1.95],[6.02,1.4],[6.08,1.05],[6.12,1.8],[6.18,1.55],[6.22,0.8],[6.28,1.95],[6.32,1.5],[6.38,1.15],[6.42,2.05],[6.48,1.4],[6.52,0.9],[6.58,1.75],[6.62,1.25],[6.68,2.0],[6.72,1.3],[6.78,1.7],[6.82,0.95],[6.88,1.9],[6.92,1.2],[6.98,1.6],[5.35,2.25],[5.65,2.4],[5.95,2.5],[6.15,2.3],[6.45,2.55],[6.7,2.4],[4.55,1.45],[4.45,1.1],[4.35,0.95],[4.6,0.45],[5.2,0.45],[5.95,0.45]];

const gli2 = [[3.96,0.34],[4.02,0.46],[4.16,0.25],[4.19,0.32],[4.22,0.58],[4.28,0.73],[4.24,0.18],[4.27,0.1],[4.32,0.06],[4.19,0.08],
[4.49,0.87],[4.51,1.31],[4.46,0.32],[4.51,0.27],[4.54,0.09],[4.61,0.08],[4.69,0.44],[4.74,1.02],[4.81,0.85],[4.84,1.28],[4.85,1.23],[4.87,0.32],[4.92,0.07],
[5.01,2.25],[5.22,1.76],[5.43,1.7],[5.52,1.92],[5.58,1.76],[5.84,1.74],[5.94,2.09],[6.03,2.19],[5.77,2.19],[6.19,2.46],[6.29,2.18],[6.35,2.4],[6.23,2.0],[6.38,1.99],[6.63,2.16],[6.67,2.72],[6.93,2.75],[7.27,2.85],[7.4,2.36],[7.42,2.28],[8.38,2.35],[6.71,2.04],[6.91,2.04],[6.51,1.73],[6.76,1.97],[6.78,1.85],
[7.69,1.8],[7.91,1.81],[8.04,1.8],[8.32,1.8],[7.33,1.44],[7.53,1.44],[7.49,1.33],[7.57,1.07],[7.69,1.09],[7.65,0.97],[7.38,0.85],[7.39,0.77],[7.91,0.84],[7.93,0.8],[8.05,0.71],[7.93,0.5],[8.13,0.44],[8.32,0.86],[9.16,0.88],[7.39,0.32],[7.38,0.17],[7.02,0.41],[6.97,0.37],[6.81,0.53],[7.18,0.61],
[5.0,0.95],[5.05,0.7],[5.1,0.5],[5.15,0.85],[5.2,0.4],[5.25,0.65],[5.3,1.1],[5.35,0.3],[5.4,0.75],[5.45,1.0],[5.5,0.55],[5.55,1.2],[5.6,0.35],[5.65,0.85],[5.7,0.6],[5.75,1.3],[5.8,0.45],[5.85,0.7],[5.9,0.95],[5.95,0.25],[6.0,1.15],[6.05,0.65],[6.1,0.4],[6.15,1.0],[6.2,0.2],[6.25,0.8],[6.3,1.25],[6.35,0.55],[6.4,0.9],[6.45,0.3],[6.5,1.1],[6.55,0.7],[6.6,0.45],[6.65,1.3],[6.7,0.95],[6.75,0.55],[6.8,1.2],[6.9,0.85],[4.95,0.4],[5.05,0.1],[5.15,0.2],[5.25,0.15],[5.35,0.12],[5.45,0.35],[5.55,0.05],[5.65,0.2],[5.75,0.02],[5.85,0.15],[6.15,0.15],[6.25,0.05],[6.35,0.1],[6.45,0.18],[4.9,0.6],[4.75,0.55],[4.7,0.25],[4.8,0.4],[5.0,1.3],[5.2,1.2],[5.4,1.4],[5.6,1.45],[5.8,1.5],[6.0,1.2],[6.2,1.55],[6.4,1.45],[6.6,1.0],[6.85,0.95],[6.1,0.75],[5.95,0.6],[5.7,0.95],[5.3,0.75],[5.1,0.25],[6.55,1.25],[6.3,0.65],[6.05,1.0],[5.5,0.9],[5.85,1.05],[6.2,0.9],[6.45,0.8],[5.15,0.6],
[4.55,0.5],[4.62,0.7],[4.68,0.15],[4.72,0.85],[4.78,0.3],[4.83,0.6],[4.88,0.95],[4.93,0.2],[4.98,0.75],[5.03,0.45],[5.08,0.9],[5.12,0.3],[5.18,1.05],[5.22,0.55],[5.28,0.25],[5.32,0.9],[5.38,0.45],[5.42,1.2],[5.48,0.7],[5.52,0.2],[5.58,0.95],[5.62,0.55],[5.68,1.1],[5.72,0.3],[5.78,0.8],[5.82,1.25],[5.88,0.4],[5.92,1.05],[5.98,0.7],[6.02,0.3],[6.08,0.9],[6.12,1.3],[6.18,0.5],[6.22,1.05],[6.28,0.3],[6.32,0.85],[6.38,1.15],[6.42,0.55],[6.48,0.95],[6.52,0.2],[6.58,0.85],[6.62,1.2],[6.68,0.6],[6.72,1.4],[6.78,0.75],[6.82,0.35],[6.88,1.05],[5.1,1.45],[5.3,1.5],[5.55,1.35],[5.75,1.6],[5.95,1.45],[6.15,1.65],[6.35,1.35],[6.55,1.5],[5.0,0.15],[5.4,0.05],[5.9,0.12],[6.1,0.08],[6.6,0.1]];

const abcg2 = [[4.74,5.44],[4.82,5.43],[4.77,5.05],[4.73,4.7],[4.79,4.64],[4.87,4.64],[4.9,4.34],[4.95,5.31],[5.01,5.64],[5.05,5.59],[5.09,5.76],[5.11,4.99],[5.19,5.11],[5.17,4.29],[4.98,3.83],[5.01,3.78],[5.06,4.11],[5.15,3.96],[5.35,4.39],[5.23,3.61],[5.41,3.51],[5.11,3.14],[5.5,3.04],[5.6,4.93],[5.68,4.76],[5.68,3.96],[5.53,2.69],[5.65,2.57],[5.7,2.36],[5.9,2.98],[5.94,3.46],[6.07,5.31],[6.14,2.63],[6.26,2.92],[6.34,3.99],[6.92,5.29],[6.7,4.7],[7.29,2.83],[7.55,2.39],[8.15,4.64],
[4.2,1.53],[4.73,1.64],[5.02,2.19],[5.17,2.21],[5.25,2.21],[5.21,1.98],[5.23,1.86],[5.25,1.68],[5.19,1.5],[5.05,1.44],[5.33,1.62],[5.49,1.33],[5.55,1.33],[5.69,1.92],[5.67,1.88],[5.6,2.12],[5.81,1.38],[5.98,1.62],[6.18,1.64],[6.3,1.92],[6.48,1.76],[6.72,1.8],[7.19,1.6],[7.24,1.62],[7.31,1.92],[7.35,1.83],[7.39,1.5],[7.39,1.38],[7.69,1.83],[7.69,1.56],
[7.87,0.97],[7.92,0.91],[7.95,1.09],[8.03,1.09],[7.94,0.79],[8.31,1.21],[8.41,0.7],[8.29,0.18],[9.16,0.56],[7.87,0.38],[7.39,0.26],[7.55,0.26],[7.61,0.02],[7.23,0.02],[7.35,0.38],[7.26,0.95],[7.06,1.17],[7.15,1.21],[7.02,0.85],[6.9,1.21],[6.86,0.34],[6.9,0.58],
[3.96,0.18],[4.02,0.1],[4.15,0.12],[4.18,0.4],[4.2,0.7],[4.22,0.3],[4.25,0.5],[4.28,0.7],[4.3,0.15],[4.35,0.25],[4.4,1.25],[4.4,0.1],[4.45,0.3],[4.5,0.6],[4.52,0.05],[4.55,0.45],[4.58,0.2],[4.6,0.08],[4.62,0.35],[4.65,0.55],[4.7,0.25],[4.72,0.15],[4.75,0.5],[4.78,0.4],[4.8,0.3],[4.82,0.85],[4.85,0.2],[4.88,0.6],[4.9,0.45],[4.92,0.12],[4.95,0.35],[4.98,0.7],[5.0,0.25],[5.02,1.2],[5.05,0.55],[5.08,0.15],[5.1,0.4],[5.12,0.8],[5.15,0.3],[5.18,0.6],[5.2,0.1],[5.22,0.45],[5.25,0.9],[5.28,0.25],[5.3,0.65],[5.32,0.18],[5.35,0.5],[5.38,0.35],[5.4,0.75],[5.42,0.15],[5.45,0.6],[5.48,0.3],[5.5,0.95],[5.52,0.45],[5.55,0.2],[5.58,0.7],[5.6,1.0],[5.62,0.4],[5.65,0.85],[5.68,0.25],[5.7,0.55],[5.72,0.35],[5.75,0.65],[5.78,0.15],[5.8,1.1],[5.82,0.45],[5.85,0.8],[5.88,0.3],[5.9,0.55],[5.92,0.95],[5.95,0.2],[5.98,0.4],[6.0,0.7],[6.02,0.1],[6.05,1.05],[6.08,0.5],[6.1,0.3],[6.12,0.85],[6.15,0.6],[6.18,0.15],[6.2,1.1],[6.22,0.45],[6.25,0.75],[6.28,0.3],[6.3,0.95],[6.32,0.55],[6.35,0.08],[6.38,0.4],[6.4,0.7],[6.42,0.25],[6.45,0.5],[6.48,0.85],[6.5,0.35],[6.52,1.05],[6.55,0.6],[6.58,0.2],[6.6,0.8],[6.62,0.45],[6.65,0.65],[6.68,1.0],[6.7,0.55],[6.72,0.3],[6.75,0.75],[6.78,0.9],[6.8,0.5],[6.85,1.1],[6.95,0.6],[7.0,0.45],[6.3,0.02],[6.2,0.05],[5.6,0.05],[5.1,0.05],
[4.27,0.2],[4.37,0.45],[4.47,0.15],[4.57,0.6],[4.67,0.3],[4.77,0.1],[4.87,0.4],[4.97,0.15],[5.07,0.35],[5.17,0.2],[5.27,0.55],[5.37,0.1],[5.47,0.45],[5.57,0.3],[5.67,0.6],[5.77,0.3],[5.87,0.55],[5.97,0.25],[6.07,0.65],[6.17,0.35],[6.27,0.55],[6.37,0.25],[6.47,0.65],[6.57,0.4],[6.67,0.25],[6.77,0.45],[5.12,0.6],[5.32,0.8],[5.52,0.6],[5.72,0.85],[5.92,0.65],[6.12,1.0],[6.32,0.75],[6.52,0.85],[6.72,0.7],[6.15,0.9],[6.25,1.0],[6.05,0.85],[5.45,0.25],[5.65,0.45],[5.85,0.15],[6.45,0.15],[4.9,0.25],[5.25,0.35],[6.6,0.55],[6.35,0.45],[6.0,0.55],[5.55,0.5],[4.65,0.15],[7.05,0.7]];

const sox2 = [[7.36,5.77],[4.26,4.14],[4.35,4.49],[4.47,3.56],[4.59,3.19],[4.81,3.86],[4.83,3.85],[5.04,4.44],[5.08,4.4],[5.38,4.18],[5.48,3.98],[5.05,2.96],[5.01,2.67],[5.55,2.87],[5.17,2.35],[5.05,1.97],[5.17,1.72],[4.83,1.44],[5.01,1.55],[5.42,1.56],[5.56,1.88],[5.01,1.3],[5.21,1.09],[5.17,1.02],[5.68,1.3],[4.81,0.82],[4.29,0.7],
[5.96,3.42],[6.28,3.6],[6.4,3.09],[6.18,2.91],[5.86,2.33],[6.21,2.28],[6.27,1.74],[5.88,1.49],[6.08,1.56],[6.04,1.0],[6.17,0.87],[6.25,1.02],[6.63,1.86],[6.75,2.39],[6.79,3.28],[6.98,4.35],[7.0,3.35],[7.42,3.28],[7.88,4.14],[7.86,3.42],[7.5,1.75],[7.48,1.77],[6.9,1.42],[6.9,1.26],[7.05,1.35],[7.03,1.3],[7.68,0.93],[7.96,1.37],[8.33,2.68],
[3.95,0.02],[4.0,0.02],[4.15,0.0],[4.2,0.03],[4.22,0.05],[4.3,0.08],[4.4,0.03],[4.45,0.07],[4.5,0.1],[4.52,0.0],[4.55,0.05],[4.6,0.5],[4.65,0.12],[4.7,0.03],[4.72,0.25],[4.75,0.08],[4.78,0.45],[4.8,0.15],[4.82,0.0],[4.85,0.35],[4.88,0.05],[4.9,0.22],[4.92,0.1],[4.95,0.3],[4.98,0.04],[5.0,0.18],[5.02,0.6],[5.05,0.08],[5.08,0.4],[5.1,0.25],[5.12,0.02],[5.15,0.12],[5.18,0.5],[5.2,0.3],[5.22,0.06],[5.25,0.2],[5.28,0.45],[5.3,0.1],[5.32,0.0],[5.35,0.28],[5.38,0.55],[5.4,0.15],[5.42,0.05],[5.45,0.35],[5.48,0.2],[5.5,0.02],[5.52,0.68],[5.55,0.1],[5.58,0.4],[5.6,0.25],[5.62,0.05],[5.65,0.15],[5.68,0.5],[5.7,0.3],[5.72,0.02],[5.75,0.1],[5.78,0.42],[5.8,0.2],[5.82,0.05],[5.85,0.33],[5.88,0.12],[5.9,0.0],[5.92,0.25],[5.95,0.65],[5.98,0.08],[6.0,0.4],[6.02,0.15],[6.05,0.03],[6.08,0.3],[6.1,0.18],[6.12,0.5],[6.15,0.06],[6.18,0.22],[6.2,0.02],[6.22,0.35],[6.25,0.45],[6.28,0.1],[6.3,0.5],[6.32,0.03],[6.35,0.2],[6.4,0.08],[6.45,0.02],[6.5,0.15],[6.55,0.3],[6.6,0.05],[6.62,0.25],[6.65,0.68],[6.7,0.1],[6.75,0.02],[6.8,0.2],[6.9,0.45],[6.92,0.55],[6.95,0.3],[7.0,0.1],[7.05,0.03],[7.15,0.1],[7.2,0.5],[7.25,0.45],[7.3,0.15],[7.35,0.05],[7.4,0.5],[7.45,0.03],[7.5,0.08],[7.55,0.0],[7.6,0.05],[7.7,0.0],[7.95,0.05],[8.05,0.03],[8.15,0.32],[8.3,0.15],[8.42,0.0],[7.25,0.08],[7.1,0.2],[6.85,0.05],[5.3,0.02],[4.85,0.02],
[4.62,0.02],[4.68,0.2],[4.74,0.0],[4.86,0.15],[4.94,0.05],[5.04,0.3],[5.14,0.05],[5.24,0.12],[5.34,0.35],[5.44,0.0],[5.46,0.25],[5.54,0.3],[5.64,0.02],[5.66,0.35],[5.74,0.22],[5.84,0.1],[5.94,0.15],[6.04,0.25],[6.06,0.05],[6.14,0.3],[6.24,0.12],[6.34,0.05],[6.36,0.35],[6.44,0.25],[6.54,0.05],[6.64,0.15],[6.72,0.3],[6.82,0.1],[6.98,0.2],[7.08,0.05],[5.1,0.1],[5.2,0.2],[5.6,0.12],[5.9,0.05],[6.3,0.25],[6.1,0.02],[5.7,0.12],[5.3,0.3],[4.9,0.08],[5.0,0.4],[6.2,0.12],[6.5,0.25],[5.4,0.4],[5.8,0.3],[7.22,0.2],[6.78,0.35]];

const series = [cd44, cd133, cd166, cxcr4, notch1, notch2, wnt1, ctnnb1, gli1, gli2, abcg2, sox2];

// ---------- layout (pixel geometry of each panel) ----------
const layout = [
 {box:[59,290.7,39.3,261.7], xd:[-0.267,6.84], yd:[-0.44,11.22], ydx:-15.7, xdy:13, title:[178,27.3,59], ylab:[23,142.5,175], xlab:[170,298,173], ann:[70,221.7,245]},
 {box:[349,578.3,39.3,257.7], xd:[-0.27,6.85], yd:[-0.23,6.95], ydx:-9, xdy:9, title:[476.7,26.7,63], ylab:[321.7,146.7,183], xlab:[464,298,185], ann:[361.7,221.7,245]},
 {box:[643.3,870.7,39,257.3], xd:[-0.264,6.864], yd:[-0.233,5.9], ydx:-9, xdy:9.3, title:[769.5,26.7,65], ylab:[612,146.7,183], xlab:[754,300,185], ann:[654,221.7,245]},
 {box:[937.7,1165,39.3,256], xd:[-0.26,6.86], yd:[-0.31,8.475], ydx:-7, xdy:10.7, title:[1052,25.5,78], ylab:[902,139.5,199], xlab:[1050,300,186], ann:[946.7,221.7,243.3]},
 {box:[55,289.3,359.3,584.3], xd:[-0.283,6.83], yd:[-0.253,6.53], ydx:-15, xdy:14, title:[175,348.3,93], ylab:[19,473,210], xlab:[171,628,172], ann:[63.3,383.3,407.3]},
 {box:[346.7,579.3,359.3,581.7], xd:[-0.255,6.88], yd:[-0.214,5.46], ydx:-16.7, xdy:13.5, title:[471,348.3,98], ylab:[312,474,210], xlab:[462,628,170], ann:[354.3,383.3,407.3]},
 {box:[641.7,872.7,359.3,579.3], xd:[3.78,9.39], yd:[-0.0155,0.47], ydx:-13.3, xdy:9, title:[760,348.3,67], ylab:[612.5,471,172], xlab:[759,626,172], ann:[648.3,383.3,408.3]},
 {box:[936,1163,361,576.7], xd:[3.73,9.45], yd:[5.854,9.0], ydx:-16, xdy:8.3, title:[1040,348.3,97], ylab:[902.5,465,210], xlab:[1055,620,170], ann:[945,383.3,405]},
 {box:[55,286.7,677.3,901.7], xd:[3.72,9.35], yd:[-0.125,3.67], ydx:-12.3, xdy:7.7, title:[168,668.3,50], ylab:[19,793,173], xlab:[172,947,189], ann:[62.3,703.3,725]},
 {box:[349.3,578.3,677.3,899.3], xd:[3.78,9.35], yd:[-0.1,3.07], ydx:-13.3, xdy:7.3, title:[462.5,668.3,55], ylab:[312,793,173], xlab:[461,942,188], ann:[358.3,703.3,726]},
 {box:[642.3,875,680.7,904.3], xd:[3.73,9.36], yd:[-0.3,7.6], ydx:-13, xdy:8, title:[766.7,668.3,87], ylab:[612.5,786.7,187], xlab:[760,942,190], ann:[648.3,705,729.3]},
 {box:[940,1172.5,680,903.3], xd:[3.757,9.4], yd:[-0.23,6.0], ydx:-12.7, xdy:6.5, title:[1041,668.3,58], ylab:[904,789.5,175], xlab:[1061,939.5,188], ann:[948.3,705,729.3]}
];

const FONT = "'Liberation Sans', Arial, Helvetica, sans-serif";
const page = document.getElementById("page");
const mL = 32, mR = 4, mT = 4, mB = 24;

layout.forEach((g, i) => {
  const [L, R, T, B] = g.box;
  const W = R - L, H = B - T;
  const xt = i < 6 ? xTicksA : xTicksB;
  const yt = yTicks[i];
  const yfmt = (i >= 6 && i <= 9) ? d3.format(".1f") : d3.format("d");
  const chart = Plot.plot({
    width: W + mL + mR,
    height: H + mT + mB,
    marginLeft: mL, marginRight: mR, marginTop: mT, marginBottom: mB,
    x: {domain: g.xd, axis: null},
    y: {domain: g.yd, axis: null},
    style: {background: "transparent", overflow: "visible", fontFamily: FONT},
    marks: [
      // tick marks just outside the box (R style)
      Plot.ruleX(xt, {x: d => d, insetTop: H, insetBottom: -4, stroke: "#777", strokeWidth: 0.8}),
      Plot.ruleY(yt, {y: d => d, insetRight: W, insetLeft: -4, stroke: "#777", strokeWidth: 0.8}),
      Plot.text(xt, {x: d => d, frameAnchor: "bottom", dy: g.xdy, text: d => String(d), fontSize: 8, fill: "#666", lineAnchor: "middle"}),
      Plot.text(yt, {y: d => d, frameAnchor: "left", dx: g.ydx, rotate: -90, text: d => yfmt(d), fontSize: 8, fill: "#666", lineAnchor: "middle", textAnchor: "middle"}),
      Plot.frame({stroke: "#444", strokeWidth: 1}),
      Plot.dot(series[i], {x: d => d[0], y: d => d[1], r: 1.25, fill: "#000"})
    ]
  });
  chart.style.position = "absolute";
  chart.style.left = (L - mL) + "px";
  chart.style.top = (T - mT) + "px";
  chart.style.maxWidth = "none";
  page.appendChild(chart);
});

// ---------- text overlay ----------
const ov = d3.select("#page").append("svg").attr("id", "overlay")
  .attr("width", 1161).attr("height", 951).style("font-family", FONT);
ov.append("rect").attr("x", 65).attr("y", 0).attr("width", 1096).attr("height", 3.3).attr("fill", "#000");

layout.forEach((g, i) => {
  const [tx, ty, tw] = g.title;
  ov.append("text").attr("x", tx).attr("y", ty).attr("text-anchor", "middle")
    .attr("font-size", 20).attr("font-weight", "bold")
    .attr("textLength", tw).attr("lengthAdjust", "spacingAndGlyphs").text(genes[i]);
  const [yx, yy, yl] = g.ylab;
  ov.append("text").attr("transform", `translate(${yx},${yy}) rotate(-90)`)
    .attr("text-anchor", "middle").attr("dominant-baseline", "central")
    .attr("font-size", 22).attr("font-weight", "bold")
    .attr("textLength", yl).attr("lengthAdjust", "spacingAndGlyphs").text(yLabels[i]);
  const [xx, xy, xl] = g.xlab;
  ov.append("text").attr("x", xx).attr("y", xy).attr("text-anchor", "middle")
    .attr("font-size", 21).attr("font-weight", "bold")
    .attr("textLength", xl).attr("lengthAdjust", "spacingAndGlyphs").text(xLabel);
  const [ax, a1, a2] = g.ann;
  ov.append("text").attr("x", ax).attr("y", a1).attr("font-size", 20)
    .attr("font-weight", "bold").attr("font-style", "italic").text("R = " + rValues[i]);
  const p = ov.append("text").attr("x", ax).attr("y", a2).attr("font-size", 20)
    .attr("font-weight", "bold").attr("font-style", "italic");
  if (pExponent[i]) {
    p.append("tspan").text("P-value = " + pMantissa[i] + " x ");
    p.append("tspan").attr("font-style", "normal").text("10");
    p.append("tspan").attr("font-style", "normal").attr("font-size", 13).attr("dy", -8).text(pExponent[i]);
  } else {
    p.text("P-value = " + pMantissa[i]);
  }
});
</script></body></html>
